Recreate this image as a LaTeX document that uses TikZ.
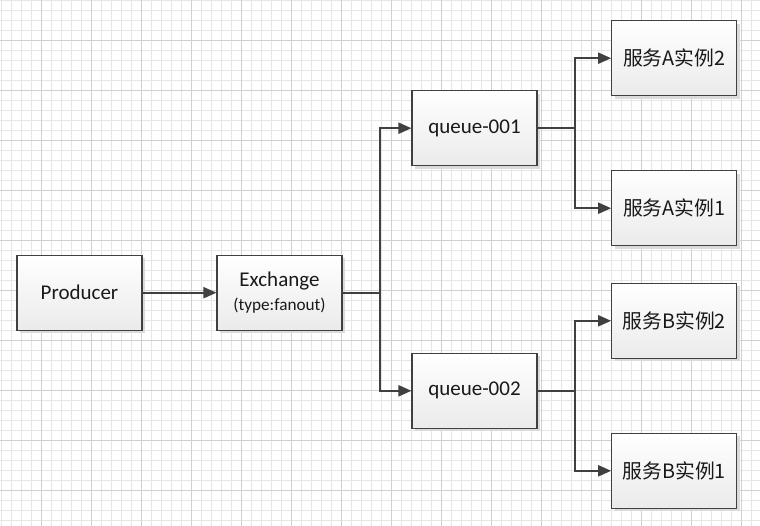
\documentclass[tikz,border=0pt]{standalone}
\usepackage{fontspec}
\setmainfont{Carlito}
\newfontfamily\cjk{Noto Sans CJK SC}
\usetikzlibrary{arrows.meta,shadows}
\definecolor{lnc}{HTML}{404040}
\definecolor{gridminor}{HTML}{E6E6E6}
\definecolor{gridmajor}{HTML}{D0D0D0}
\tikzset{
  box/.style={draw=lnc, line width=1.1bp, minimum width=125bp, minimum height=75bp,
    top color=white, bottom color=black!8, inner sep=0pt,
    drop shadow={shadow xshift=3bp, shadow yshift=-3bp, fill=black!14, opacity=1},
    font=\fontsize{21bp}{25bp}\selectfont, text=black!90},
  cn/.style={box, font=\cjk\fontsize{19.8bp}{24bp}\selectfont},
  conn/.style={draw=lnc, line width=2bp, -{Triangle[length=13bp,width=11bp]}},
  plain/.style={draw=lnc, line width=2bp}
}
\begin{document}
\begin{tikzpicture}[x=1bp,y=-1bp]
\useasboundingbox (0,0) rectangle (760,526);
\fill[white] (0,0) rectangle (760,526);
% grid
\foreach \gx in {1,11,...,760} \draw[gridminor, line width=0.9bp] (\gx,0) -- (\gx,526);
\foreach \gy in {0,10,...,526} \draw[gridminor, line width=0.9bp] (0,\gy) -- (760,\gy);
\foreach \gx in {41,91,...,760} \draw[gridmajor, line width=0.9bp] (\gx,0) -- (\gx,526);
\foreach \gy in {40,90,...,526} \draw[gridmajor, line width=0.9bp] (0,\gy) -- (760,\gy);
% nodes
\node[box] (prod) at (79.5,292.7) {Producer};
\node[box, align=center] (ex) at (279.5,292.7) {Exchange\\[-1bp]{\fontsize{17.2bp}{20bp}\selectfont (type:fanout)}};
\node[box] (q1) at (474.5,128.2) {queue-001};
\node[box] (q2) at (474.5,390.8) {queue-002};
\node[cn] (a2) at (674.2,58.2) {服务A实例2};
\node[cn] (a1) at (674.2,208.2) {服务A实例1};
\node[cn] (b2) at (674.2,320.8) {服务B实例2};
\node[cn] (b1) at (674.2,470.8) {服务B实例1};
% junctions
\coordinate (je) at (380,292.7);
\coordinate (jq1) at (575,128.2);
\coordinate (jq2) at (575,390.8);
% connectors
\draw[conn] (prod.east) -- (ex.west);
\draw[plain] (ex.east) -- (je);
\draw[conn] (je) |- (q1.west);
\draw[conn] (je) |- (q2.west);
\draw[plain] (q1.east) -- (jq1);
\draw[conn] (jq1) |- (a2.west);
\draw[conn] (jq1) |- (a1.west);
\draw[plain] (q2.east) -- (jq2);
\draw[conn] (jq2) |- (b2.west);
\draw[conn] (jq2) |- (b1.west);
\end{tikzpicture}
\end{document}
